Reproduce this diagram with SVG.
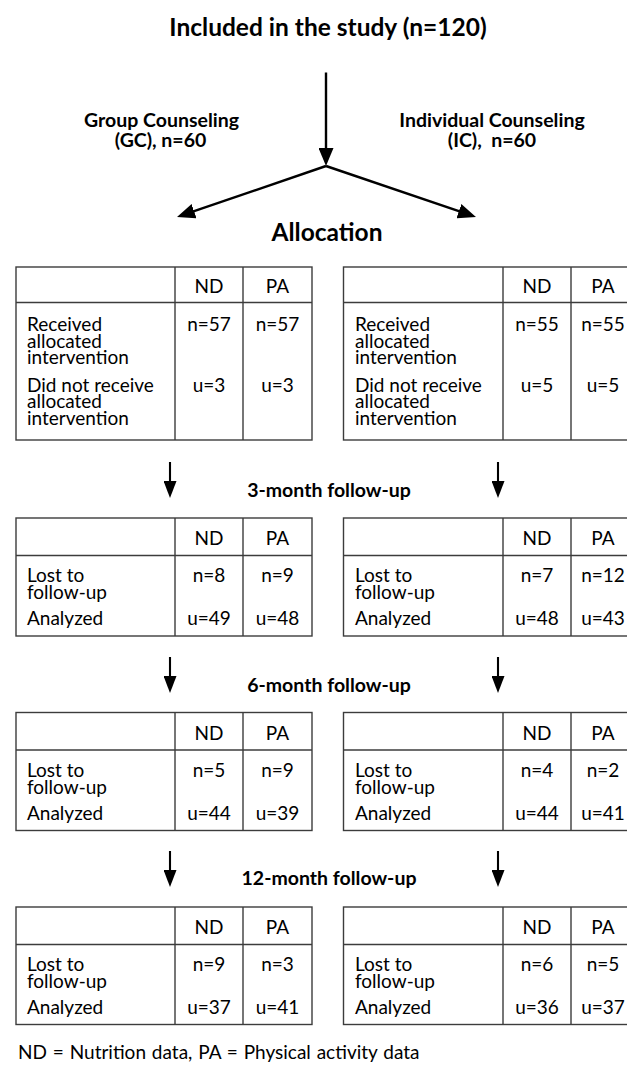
<svg xmlns="http://www.w3.org/2000/svg" width="627" height="1066" viewBox="0 0 627 1066">
<style>
  .title { font-family: Lato, "Liberation Sans", sans-serif; font-weight: bold; font-size: 24.5px; fill: #000; text-anchor: middle; }
  .grp { font-family: Lato, "Liberation Sans", sans-serif; font-weight: bold; font-size: 19.5px; fill: #000; text-anchor: middle; }
  .lbl { font-family: Lato, "Liberation Sans", sans-serif; font-weight: bold; font-size: 19.5px; fill: #000; text-anchor: middle; }
  .t { font-family: Lato, "Liberation Sans", sans-serif; font-size: 19px; fill: #000; }
  .c { font-family: Lato, "Liberation Sans", sans-serif; font-size: 19px; fill: #000; text-anchor: middle; }
  .box { fill: #fff; stroke: #3c3c3c; stroke-width: 1.4; }
  .div { stroke: #3c3c3c; stroke-width: 1.4; }
  .arr { stroke: #000; stroke-width: 2.4; fill: none; }
  .arrs { stroke: #000; stroke-width: 2.1; fill: none; }
</style>
<defs>
  <marker id="ah" markerUnits="userSpaceOnUse" markerWidth="18" markerHeight="15" refX="10" refY="7.5" orient="auto">
    <path d="M0,0 L18,7.5 L0,15 Z" fill="#000"/>
  </marker>
  <marker id="ahs" markerUnits="userSpaceOnUse" markerWidth="17" markerHeight="13" refX="9" refY="6.5" orient="auto">
    <path d="M0,0 L17,6.5 L0,13 Z" fill="#000"/>
  </marker>
</defs>

<g id="title"><text class="title" x="328" y="35.5">Included in the study (n=120)</text></g>
<g id="gc-label"><text class="grp" x="161.5" y="126.5">Group Counseling<tspan x="160.5" dy="20">(GC), n=60</tspan></text></g>
<g id="ic-label"><text class="grp" x="492" y="126.5" style="white-space:pre">Individual Counseling<tspan x="492" dy="20">(IC),  n=60</tspan></text></g>
<g id="allocation"><text class="title" x="327" y="241">Allocation</text></g>

<g id="connectors">
  <line class="arr" x1="326" y1="72.5" x2="326" y2="158" marker-end="url(#ah)"/>
  <line class="arr" x1="326" y1="166" x2="184.6" y2="214.4" marker-end="url(#ah)"/>
  <line class="arr" x1="326" y1="166" x2="468.4" y2="214.4" marker-end="url(#ah)"/>
  <line class="arrs" x1="170" y1="462" x2="170" y2="490" marker-end="url(#ahs)"/>
  <line class="arrs" x1="498" y1="462" x2="498" y2="490" marker-end="url(#ahs)"/>
  <line class="arrs" x1="170" y1="657" x2="170" y2="685" marker-end="url(#ahs)"/>
  <line class="arrs" x1="498" y1="657" x2="498" y2="685" marker-end="url(#ahs)"/>
  <line class="arrs" x1="170" y1="851" x2="170" y2="879" marker-end="url(#ahs)"/>
  <line class="arrs" x1="498" y1="851" x2="498" y2="879" marker-end="url(#ahs)"/>
</g>

<g id="fu3-label"><text class="lbl" x="329" y="497">3-month follow-up</text></g>
<g id="fu6-label"><text class="lbl" x="329" y="691.5">6-month follow-up</text></g>
<g id="fu12-label"><text class="lbl" x="329" y="885">12-month follow-up</text></g>

<!-- Allocation tables -->
<g id="gc-allocation">
  <rect class="box" x="16" y="267" width="296" height="173"/>
  <line class="div" x1="16" y1="302.5" x2="312" y2="302.5"/>
  <line class="div" x1="175" y1="267" x2="175" y2="440"/>
  <line class="div" x1="243" y1="267" x2="243" y2="440"/>
  <text class="c" x="209" y="292.5">ND</text><text class="c" x="277.5" y="292.5">PA</text>
  <text class="t" x="27" y="331">Received<tspan x="27" dy="16.5">allocated</tspan><tspan x="27" dy="16.5">intervention</tspan></text>
  <text class="t" x="27" y="391.5">Did not receive<tspan x="27" dy="16.5">allocated</tspan><tspan x="27" dy="16.5">intervention</tspan></text>
  <text class="c" x="209" y="331">n=57</text><text class="c" x="277.5" y="331">n=57</text>
  <text class="c" x="209" y="391.5">u=3</text><text class="c" x="277.5" y="391.5">u=3</text>
</g>
<g id="ic-allocation">
  <rect class="box" x="343.5" y="267" width="296.5" height="173"/>
  <line class="div" x1="343.5" y1="302.5" x2="640" y2="302.5"/>
  <line class="div" x1="503" y1="267" x2="503" y2="440"/>
  <line class="div" x1="571" y1="267" x2="571" y2="440"/>
  <text class="c" x="537" y="292.5">ND</text><text class="c" x="603" y="292.5">PA</text>
  <text class="t" x="355" y="331">Received<tspan x="355" dy="16.5">allocated</tspan><tspan x="355" dy="16.5">intervention</tspan></text>
  <text class="t" x="355" y="391.5">Did not receive<tspan x="355" dy="16.5">allocated</tspan><tspan x="355" dy="16.5">intervention</tspan></text>
  <text class="c" x="537" y="331">n=55</text><text class="c" x="603" y="331">n=55</text>
  <text class="c" x="537" y="391.5">u=5</text><text class="c" x="603" y="391.5">u=5</text>
</g>

<!-- 3-month -->
<g id="gc-3m">
  <rect class="box" x="16" y="518" width="296" height="118"/>
  <line class="div" x1="16" y1="555.5" x2="312" y2="555.5"/>
  <line class="div" x1="175" y1="518" x2="175" y2="636"/>
  <line class="div" x1="243" y1="518" x2="243" y2="636"/>
  <text class="c" x="209" y="545">ND</text><text class="c" x="277.5" y="545">PA</text>
  <text class="t" x="27" y="582">Lost to<tspan x="27" dy="17">follow-up</tspan></text>
  <text class="t" x="27" y="625">Analyzed</text>
  <text class="c" x="209" y="582">n=8</text><text class="c" x="277.5" y="582">n=9</text>
  <text class="c" x="209" y="625">u=49</text><text class="c" x="277.5" y="625">u=48</text>
</g>
<g id="ic-3m">
  <rect class="box" x="343.5" y="518" width="296.5" height="118"/>
  <line class="div" x1="343.5" y1="555.5" x2="640" y2="555.5"/>
  <line class="div" x1="503" y1="518" x2="503" y2="636"/>
  <line class="div" x1="571" y1="518" x2="571" y2="636"/>
  <text class="c" x="537" y="545">ND</text><text class="c" x="603" y="545">PA</text>
  <text class="t" x="355" y="582">Lost to<tspan x="355" dy="17">follow-up</tspan></text>
  <text class="t" x="355" y="625">Analyzed</text>
  <text class="c" x="537" y="582">n=7</text><text class="c" x="603" y="582">n=12</text>
  <text class="c" x="537" y="625">u=48</text><text class="c" x="603" y="625">u=43</text>
</g>

<!-- 6-month -->
<g id="gc-6m">
  <rect class="box" x="16" y="712.5" width="296" height="118"/>
  <line class="div" x1="16" y1="750" x2="312" y2="750"/>
  <line class="div" x1="175" y1="712.5" x2="175" y2="830.5"/>
  <line class="div" x1="243" y1="712.5" x2="243" y2="830.5"/>
  <text class="c" x="209" y="739.5">ND</text><text class="c" x="277.5" y="739.5">PA</text>
  <text class="t" x="27" y="776.5">Lost to<tspan x="27" dy="17">follow-up</tspan></text>
  <text class="t" x="27" y="819.5">Analyzed</text>
  <text class="c" x="209" y="776.5">n=5</text><text class="c" x="277.5" y="776.5">n=9</text>
  <text class="c" x="209" y="819.5">u=44</text><text class="c" x="277.5" y="819.5">u=39</text>
</g>
<g id="ic-6m">
  <rect class="box" x="343.5" y="712.5" width="296.5" height="118"/>
  <line class="div" x1="343.5" y1="750" x2="640" y2="750"/>
  <line class="div" x1="503" y1="712.5" x2="503" y2="830.5"/>
  <line class="div" x1="571" y1="712.5" x2="571" y2="830.5"/>
  <text class="c" x="537" y="739.5">ND</text><text class="c" x="603" y="739.5">PA</text>
  <text class="t" x="355" y="776.5">Lost to<tspan x="355" dy="17">follow-up</tspan></text>
  <text class="t" x="355" y="819.5">Analyzed</text>
  <text class="c" x="537" y="776.5">n=4</text><text class="c" x="603" y="776.5">n=2</text>
  <text class="c" x="537" y="819.5">u=44</text><text class="c" x="603" y="819.5">u=41</text>
</g>

<!-- 12-month -->
<g id="gc-12m">
  <rect class="box" x="16" y="907" width="296" height="117.5"/>
  <line class="div" x1="16" y1="944.5" x2="312" y2="944.5"/>
  <line class="div" x1="175" y1="907" x2="175" y2="1024.5"/>
  <line class="div" x1="243" y1="907" x2="243" y2="1024.5"/>
  <text class="c" x="209" y="934">ND</text><text class="c" x="277.5" y="934">PA</text>
  <text class="t" x="27" y="971">Lost to<tspan x="27" dy="17">follow-up</tspan></text>
  <text class="t" x="27" y="1014">Analyzed</text>
  <text class="c" x="209" y="971">n=9</text><text class="c" x="277.5" y="971">n=3</text>
  <text class="c" x="209" y="1014">u=37</text><text class="c" x="277.5" y="1014">u=41</text>
</g>
<g id="ic-12m">
  <rect class="box" x="343.5" y="907" width="296.5" height="117.5"/>
  <line class="div" x1="343.5" y1="944.5" x2="640" y2="944.5"/>
  <line class="div" x1="503" y1="907" x2="503" y2="1024.5"/>
  <line class="div" x1="571" y1="907" x2="571" y2="1024.5"/>
  <text class="c" x="537" y="934">ND</text><text class="c" x="603" y="934">PA</text>
  <text class="t" x="355" y="971">Lost to<tspan x="355" dy="17">follow-up</tspan></text>
  <text class="t" x="355" y="1014">Analyzed</text>
  <text class="c" x="537" y="971">n=6</text><text class="c" x="603" y="971">n=5</text>
  <text class="c" x="537" y="1014">u=36</text><text class="c" x="603" y="1014">u=37</text>
</g>

<g id="footnote"><text class="t" x="18" y="1059" style="word-spacing:1px">ND = Nutrition data, PA = Physical activity data</text></g>
</svg>
